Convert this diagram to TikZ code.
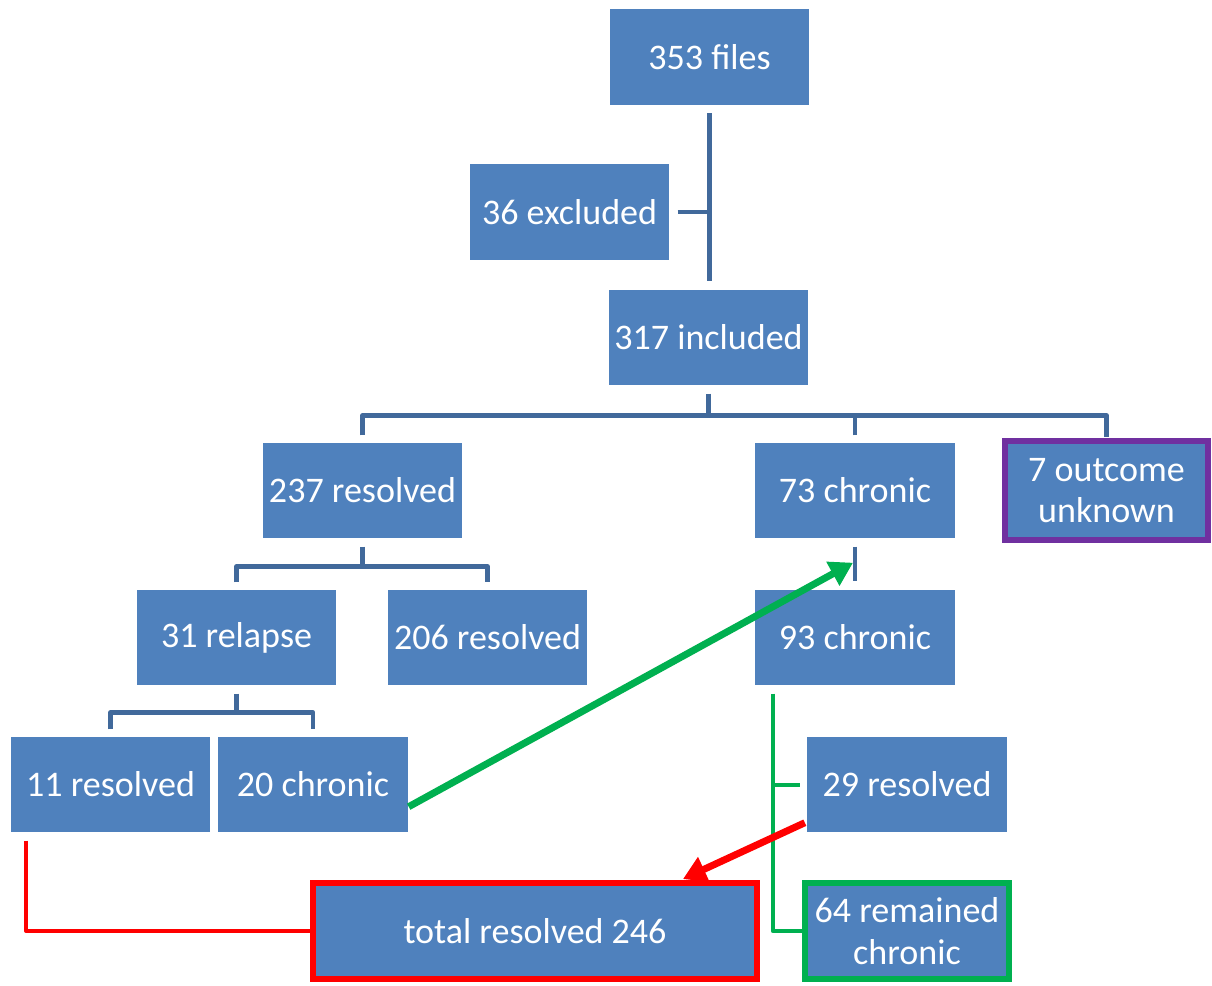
\documentclass[tikz,border=0pt]{standalone}
\usepackage{fontspec}
\setmainfont{Carlito}
\usetikzlibrary{arrows.meta,calc}
\definecolor{boxblue}{RGB}{79,129,189}
\definecolor{lineblue}{RGB}{65,105,155}
\definecolor{okgreen}{RGB}{0,176,80}
\definecolor{okpurple}{RGB}{112,48,160}
\tikzset{
  box/.style={fill=boxblue,draw=white,line width=0.8pt,text=white,inner sep=0pt,
    minimum width=4.02cm,minimum height=1.94cm,align=center,
    font=\fontsize{20.5}{23.5}\selectfont},
  conn/.style={draw=lineblue,line width=2.8pt,line join=round},
  gline/.style={draw=okgreen,line width=2.3pt,line join=round},
  rline/.style={draw=red,line width=2.3pt,line join=round},
  garrow/.style={draw=okgreen,line width=4pt,-{Triangle[length=0.46cm,width=0.52cm]}},
  rarrow/.style={draw=red,line width=4pt,-{Triangle[length=0.46cm,width=0.52cm]}}
}
\begin{document}
\begin{tikzpicture}[x=0.02cm,y=-0.02cm]
      \useasboundingbox (0,0) rectangle (1212,985);
      \path
        (709.5,57) node[box] (files){353 files}
        (569.5,212) node[box] (excl){36 excluded}
        (708.5,337.5) node[box] (incl){317 included}
        (362.5,490.5) node[box] (res){237 resolved}
        (855,490.5) node[box] (chr){73 chronic}
        (1106.5,490.5) node[box,draw=okpurple,line width=3.4pt,minimum width=4.06cm,minimum height=1.98cm] (unk){7 outcome\\unknown}
        (236.5,637.5) node[box] (relapse){31 relapse}
        (487.5,637.5) node[box] (resb){206 resolved}
        (855,637.5) node[box] (chrb){93 chronic}
        (110.5,784.5) node[box] (resc){11 resolved}
        (313,784.5) node[box,minimum width=3.84cm] (chrc){20 chronic}
        (907,784.5) node[box] (resd){29 resolved}
        (535,931) node[box,draw=red,line width=3.4pt,minimum width=8.88cm,minimum height=1.92cm] (total){total resolved 246}
        (907,931) node[box,draw=okgreen,line width=3.4pt,minimum width=4.08cm,minimum height=1.92cm] (remain){64 remained\\chronic};
      \begin{scope}[conn]
        \draw[shorten <=4pt,shorten >=4pt] (files) -- (files |- incl.north);
        \draw[shorten <=4pt] (excl.east) -- (excl.east -| files);
        \draw (incl.south) ++(0,7) -- ++(0,22);
        \draw ($(res.north)+(0,-6)$) |- ($(incl.south)+(0,29)$) -| ($(unk.north)+(0,-1)$);
        \draw ($(chr.north)+(0,-6)$) -- ++(0,-21);
        \draw (res.south) ++(0,7) -- ++(0,20);
        \draw ($(relapse.north)+(0,-6)$) |- ($(res.south)+(0,27)$) -| ($(resb.north)+(0,-6)$);
        \draw (relapse.south) ++(0,7) -- ++(0,19);
        \draw ($(resc.north)+(0,-6)$) |- ($(relapse.south)+(0,26)$) -| ($(chrc.north)+(0,-6)$);
        \draw ($(chr.south)+(0,7)$) -- ($(chrb.north)+(0,-7)$);
      \end{scope}
      \begin{scope}[gline]
        \draw ($(chrb.south west)+(19,7)$) |- (remain.west);
        \draw ($(resd.west)+(-6,0)$) -- ($(resd.west)+(-33,0)$);
      \end{scope}
      \draw[rline] ($(resc.south west)+(17,7)$) |- (total.west);
      \draw[garrow] ($(chrc.south east)+(-1,-27)$) -- ($(chr.south)+(-2,23)$);
      \draw[rarrow] ($(resd.south west)+(-1,-11)$) -- ($(total.north east)+(-77,-1)$);
    \end{tikzpicture}
\end{document}
